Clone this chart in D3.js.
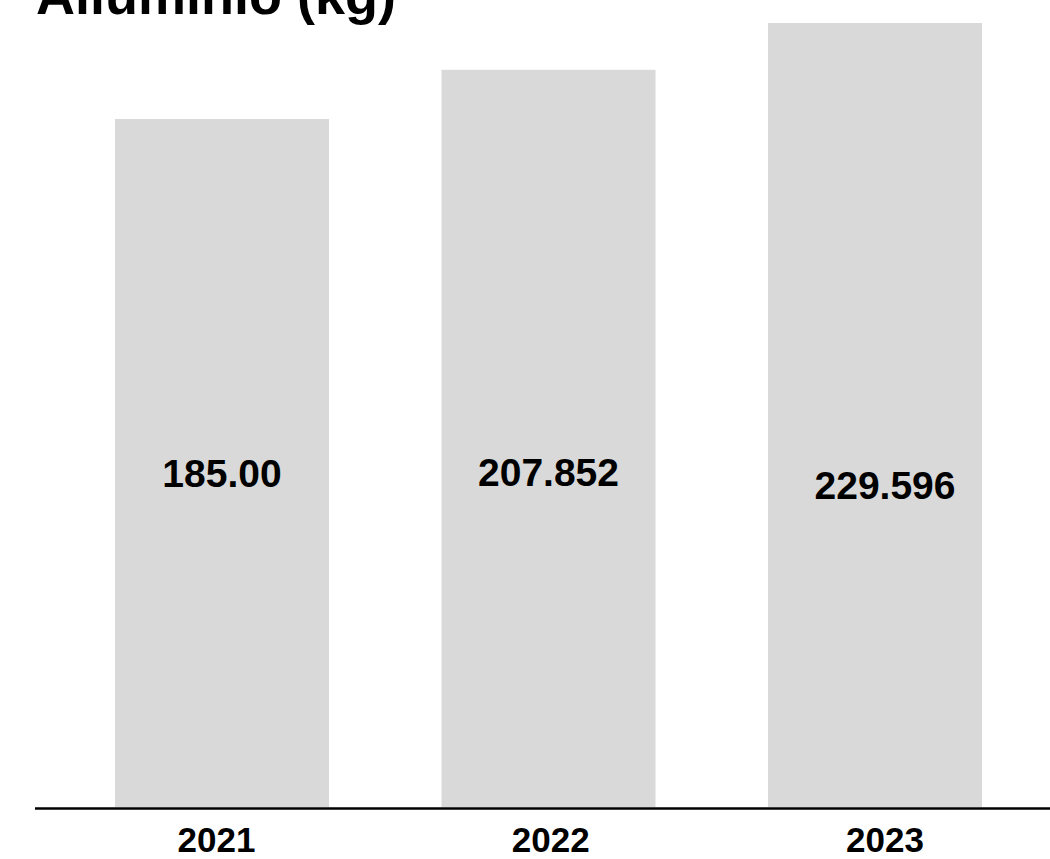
<!DOCTYPE html>
<html>
<head>
<meta charset="utf-8">
<script src="https://cdn.jsdelivr.net/npm/d3@7"></script>
<style>
  html, body { margin: 0; padding: 0; background: #fff; }
  svg { display: block; }
  text { font-family: "Liberation Sans", Arial, Helvetica, sans-serif; font-weight: bold; fill: #000; }
</style>
</head>
<body>
<svg id="chart" width="1050" height="859"></svg>
<script>
// Aluminium quantities by year (kg)
const years = ["2021", "2022", "2023"];
const values = [185.00, 207.852, 229.596];
const valueLabels = ["185.00", "207.852", "229.596"];
const title = "Alluminio (kg)";

// label layout tweaks (horizontal nudge, baseline)
const labelNudge = [0, 0, 10];
const labelBaseline = [487, 486, 499];

const svg = d3.select("#chart");
const W = 1050;
const baseY = 807;

const x = d3.scaleBand()
  .domain(years)
  .range([115, 982])
  .paddingInner(0.3446)
  .paddingOuter(0);

const y = d3.scaleLinear()
  .domain([-134.6, 229.596])
  .range([baseY, 23]);

const xLabel = d3.scalePoint()
  .domain(years)
  .range([216.5, 885]);

// bars
svg.append("g")
  .selectAll("rect")
  .data(values)
  .join("rect")
  .attr("x", (d, i) => x(years[i]))
  .attr("y", d => y(d))
  .attr("width", x.bandwidth())
  .attr("height", d => baseY - y(d))
  .attr("fill", "#d9d9d9");

// baseline
svg.append("line")
  .attr("x1", 35).attr("x2", W)
  .attr("y1", 808.5).attr("y2", 808.5)
  .attr("stroke", "#000")
  .attr("stroke-width", 2.5);

// value labels
svg.append("g")
  .selectAll("text")
  .data(valueLabels)
  .join("text")
  .attr("x", (d, i) => x(years[i]) + x.bandwidth() / 2 + labelNudge[i])
  .attr("y", (d, i) => labelBaseline[i])
  .attr("text-anchor", "middle")
  .attr("font-size", 39)
  .text(d => d);

// year labels
svg.append("g")
  .selectAll("text")
  .data(years)
  .join("text")
  .attr("x", d => xLabel(d))
  .attr("y", 852)
  .attr("text-anchor", "middle")
  .attr("font-size", 35)
  .text(d => d);

// title (partly above the top edge)
svg.append("text")
  .attr("x", 36)
  .attr("y", 14)
  .attr("font-size", 54)
  .text(title);
</script>
</body>
</html>
